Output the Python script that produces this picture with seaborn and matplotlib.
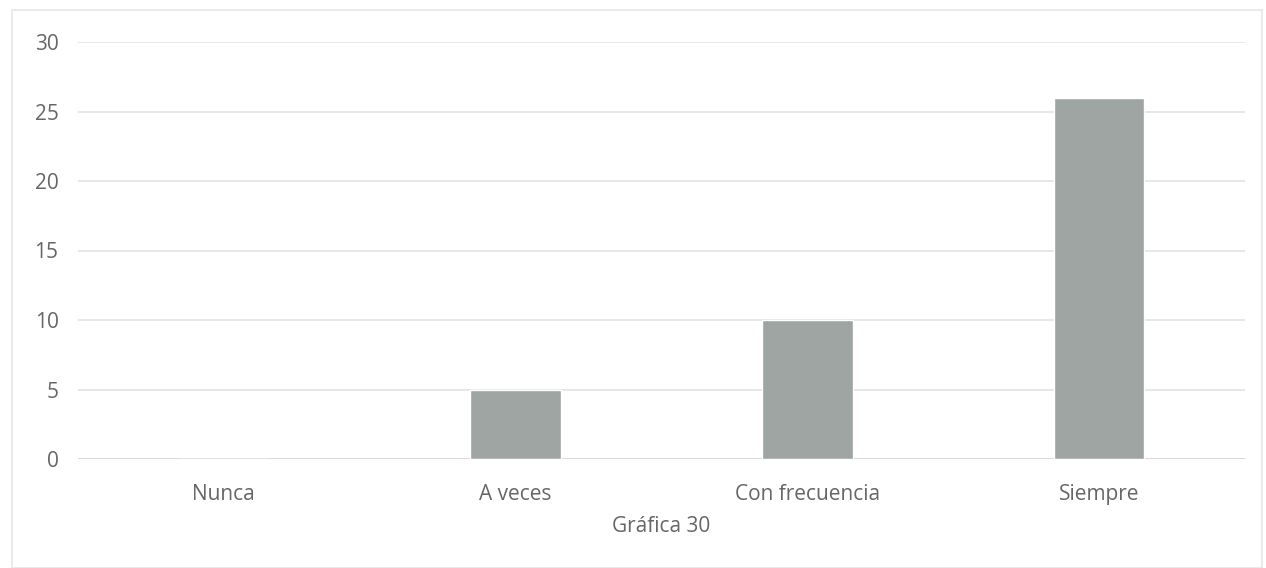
import matplotlib
matplotlib.use("Agg")
import matplotlib.pyplot as plt
import seaborn as sns
import pandas as pd
from matplotlib.patches import Rectangle

# datos de la gráfica
categorias = ['Nunca', 'A veces', 'Con frecuencia', 'Siempre']
valores = [0, 5, 10, 26]
ticks_y = [0, 5, 10, 15, 20, 25, 30]

df = pd.DataFrame({'categoria': categorias, 'valor': valores})

sns.set_style('white')
plt.rcParams['font.family'] = ['Open Sans', 'DejaVu Sans']

fig = plt.figure(figsize=(12.66, 5.68), dpi=100)
ax = fig.add_axes([78 / 1266, 1 - 459 / 568, (1245 - 78) / 1266, (459 - 42) / 568])

sns.barplot(data=df, x='categoria', y='valor', color='#9fa5a3', width=0.31,
            saturation=1, ax=ax, zorder=3)

ax.set_ylim(0, 30)
ax.set_xlim(-0.5, 3.5)
ax.set_yticks(ticks_y)
ax.yaxis.grid(True, color='#e3e3e3', linewidth=1.2, zorder=0)
for s in ax.spines.values():
    s.set_visible(False)
ax.axhline(0, color='#d6d6d6', linewidth=1.2, zorder=2)

ax.tick_params(axis='y', length=0, pad=14, labelsize=15, labelcolor='#666666')
ax.tick_params(axis='x', length=0, pad=18, labelsize=15, labelcolor='#666666')
ax.set_ylabel('')
ax.set_xlabel('Gráfica 30', fontsize=15, color='#666666', labelpad=8)

# marco exterior
fig.patches.append(Rectangle((12 / 1266, 0.0), (1262 - 12) / 1266, 1 - 10 / 568,
                             transform=fig.transFigure, fill=False,
                             edgecolor='#e6e6e6', linewidth=1.2))

fig.savefig('out.png', dpi=100)
